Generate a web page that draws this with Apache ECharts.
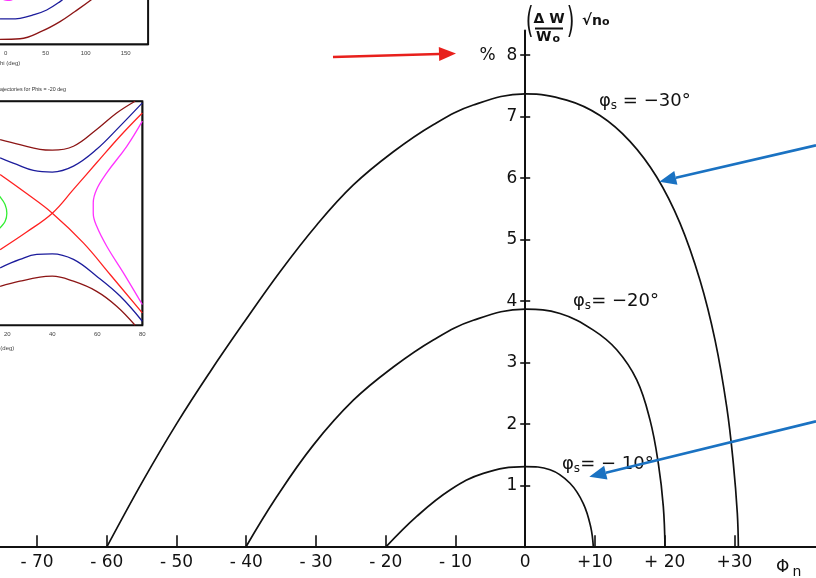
<!DOCTYPE html>
<html><head><meta charset="utf-8">
<script src="https://cdn.jsdelivr.net/npm/echarts@6/dist/echarts.min.js"></script>
<style>html,body{margin:0;padding:0;background:#fff}#c{width:816px;height:578px}</style>
</head><body><div id="c"></div>
<script>
// ---------- main chart ----------
const xTicks = [-70,-60,-50,-40,-30,-20,-10,0,10,20,30];
const xTickLabels = ['- 70','- 60','- 50','- 40','- 30','- 20','- 10','0','+10','+ 20','+30'];
const yTicks = [1,2,3,4,5,6,7,8];
const yTickLabels = ['1','2','3','4','5','6','7','%  8'];

const phi30 = [-60,-54.75,-49.97,-45.19,-40.42,-35.15,-29.89,-24.64,-18.91,-13.18,-7.44,0,5.95,10.72,15.02,18.85,22.19,25.06,27.21,28.89,29.84,30.41,30.56];
const dw30  = [0,1.09,2.01,2.85,3.64,4.48,5.24,5.89,6.43,6.87,7.19,7.37,7.27,7.02,6.60,6.02,5.27,4.34,3.37,2.28,1.36,0.55,0];
const phi20 = [-40.07,-35.63,-30.38,-24.64,-18.91,-13.18,-7.44,0,4.99,9.77,13.12,15.99,17.89,19.09,19.8,20.04];
const dw20  = [0,0.82,1.66,2.39,2.93,3.37,3.69,3.87,3.80,3.53,3.21,2.72,2.07,1.36,0.66,0];
const phi10 = [-20,-15.56,-10.78,-6.0,0,3.56,6.42,8.33,9.39,9.77];
const dw10  = [0,0.50,0.93,1.20,1.31,1.26,1.04,0.71,0.33,0];

// ---------- inset 1 (top-left, clipped) ----------
const in1Blue  = [[-7.1,0.76],[5,0.76],[17.9,0.78],[34.1,0.88],[51.3,1.03],[67.9,1.28],[76,1.45]];
const in1Dred  = [[-7.1,0.15],[17.9,0.166],[46.6,0.41],[67.9,0.68],[86.6,0.985],[106.6,1.33],[112,1.45]];
const in1Mag   = [[-4,1.36],[0,1.325],[5,1.32],[9,1.35]];

// ---------- inset 2 (Phis = -20 deg) ----------
const in2DredUp = [[16.8,2.63],[25.6,2.45],[34.5,2.28],[40,2.25],[49.4,2.39],[59.7,2.99],[68.6,3.58],[76.8,4.0]];
const in2BlueUp = [[16.8,1.98],[24.2,1.74],[31.6,1.53],[40,1.47],[49.4,1.68],[59.7,2.28],[70.1,3.11],[80,3.94]];
const in2RedA   = [[16.8,1.38],[28.6,0.70],[40,0],[53.8,-1.06],[65.7,-2.19],[80,-3.56]];
const in2RedB   = [[16.8,-1.30],[28.6,-0.67],[40,0],[49.4,0.85],[59.7,1.80],[70.1,2.75],[80,3.58]];
const in2BlueDn = [[16.8,-1.95],[25.6,-1.65],[33.1,-1.47],[40,-1.45],[49.4,-1.65],[59.7,-2.25],[70.1,-2.96],[80,-3.86]];
const in2DredDn = [[16.8,-2.61],[25.6,-2.43],[34.5,-2.28],[40,-2.25],[49.4,-2.43],[59.7,-2.79],[68.6,-3.32],[76.8,-4.0]];
const in2Mag    = [[80,3.29],[73.1,2.39],[64.2,1.44],[59.7,0.85],[58.2,0.37],[58.2,0],[59.7,-0.46],[64.2,-1.18],[71.6,-2.13],[80,-3.26]];
const in2Green  = [[15,0.72],[16.8,0.58],[19,0.31],[19.8,0],[19,-0.30],[16.8,-0.52],[15,-0.66]];

const FONT = 'DejaVu Sans';
const zip = (a,b) => a.map((v,i)=>[v,b[i]]);
const chart = echarts.init(document.getElementById('c'), null, {renderer:'canvas'});

const gridLine = {show:true, lineStyle:{color:'#c4c4c4', width:2}};
const smallLab = {fontSize:6, color:'#444', fontFamily:'Liberation Sans'};

function insetSeries(data, color, xi, yi){
  return {type:'line', xAxisIndex:xi, yAxisIndex:yi, data:data, smooth:0.4, symbol:'none',
          lineStyle:{color:color, width:1.3}, clip:true, silent:true, z:3};
}
function mainSeries(x, y){
  return {type:'line', xAxisIndex:0, yAxisIndex:0, data:zip(x,y), smooth:0.4, symbol:'none',
          lineStyle:{color:'#111', width:1.7}, silent:true};
}

function arrow(x1,y1,x2,y2,color){
  const dx=x1-x2, dy=y1-y2, L=Math.hypot(dx,dy), ux=dx/L, uy=dy/L;
  const hl=17, hw=7;
  const bx=x2+ux*hl, by=y2+uy*hl;
  return [
    {type:'line', shape:{x1:x1,y1:y1,x2:bx,y2:by}, style:{stroke:color, lineWidth:2.6}, z:10},
    {type:'polygon', shape:{points:[[x2,y2],[bx-uy*hw,by+ux*hw],[bx+uy*hw,by-ux*hw]]}, style:{fill:color}, z:10}
  ];
}
const G = {outerBoundsMode:'none', containLabel:false};
const yLab = {show:true, customValues:yTicks, margin:8, fontSize:17, fontFamily:FONT, color:'#111',
       formatter:(v)=>{const i=yTicks.indexOf(Math.round(v)); return i>=0?yTickLabels[i]:'';}};

const option = {
  backgroundColor:'#fff',
  animation:false,
  grid:[
    Object.assign({left:0, right:0, top:30.6, bottom:30.8}, G),
    Object.assign({left:525.2, right:0, top:30.6, bottom:30.8}, G),
    Object.assign({left:-34.3, width:182.4, top:-55.7, height:100, show:true, borderColor:'#111', borderWidth:2, backgroundColor:'#fff', z:2}, G),
    Object.assign({left:-37.7, width:180, top:101.2, height:224, show:true, borderColor:'#111', borderWidth:2, backgroundColor:'#fff', z:2}, G),
    Object.assign({left:525.2, right:0, top:30.6, bottom:30.8}, G)
  ],
  xAxis:[
    {type:'value', gridIndex:0, min:-75.3, max:41.69,
     axisLine:{show:true, onZero:false, lineStyle:{color:'#111', width:2}},
     axisTick:{show:true, inside:true, length:12, customValues:xTicks, lineStyle:{color:'#111', width:1.6}},
     axisLabel:{show:true, customValues:xTicks, margin:7, fontSize:17, fontFamily:FONT, color:'#111',
       formatter:(v)=>{const i=xTicks.indexOf(Math.round(v)); return i>=0?xTickLabels[i]:'';}},
     splitLine:{show:false}},
    {type:'value', gridIndex:1, min:0, max:1, show:false},
    {type:'value', gridIndex:2, min:-50, max:178, interval:50,
     axisLine:{show:false}, axisTick:{show:false}, splitLine:gridLine,
     axisLabel:Object.assign({margin:6, showMaxLabel:false}, smallLab)},
    {type:'value', gridIndex:3, min:0, max:80, interval:20,
     axisLine:{show:false}, axisTick:{show:false}, splitLine:gridLine,
     axisLabel:Object.assign({margin:6}, smallLab)},
    {type:'value', gridIndex:4, min:0, max:1, show:false}
  ],
  yAxis:[
    {type:'value', gridIndex:0, min:0, max:8.4, show:false},
    {type:'value', gridIndex:1, min:0, max:8.4, position:'left',
     axisLine:{show:true, onZero:false, lineStyle:{color:'#111', width:2}},
     axisTick:{show:true, length:5, customValues:yTicks, lineStyle:{color:'#111', width:1.6}},
     axisLabel:yLab, splitLine:{show:false}},
    {type:'value', gridIndex:2, min:0, max:3, interval:1,
     axisLine:{show:false}, axisTick:{show:false}, axisLabel:{show:false}, splitLine:gridLine},
    {type:'value', gridIndex:3, min:-4, max:4, interval:1,
     axisLine:{show:false}, axisTick:{show:false}, axisLabel:{show:false}, splitLine:gridLine},
    {type:'value', gridIndex:4, min:0, max:8.4, position:'left',
     axisLine:{show:false}, axisLabel:{show:false}, splitLine:{show:false},
     axisTick:{show:true, inside:true, length:5, customValues:yTicks, lineStyle:{color:'#111', width:1.6}}}
  ],
  series:[
    mainSeries(phi30, dw30),
    mainSeries(phi20, dw20),
    mainSeries(phi10, dw10),
    insetSeries(in1Blue, '#1c1c9c', 2, 2),
    insetSeries(in1Dred, '#8c1515', 2, 2),
    insetSeries(in1Mag, '#ff33ff', 2, 2),
    insetSeries(in2DredUp, '#8c1515', 3, 3),
    insetSeries(in2BlueUp, '#1c1c9c', 3, 3),
    insetSeries(in2RedA, '#ff2222', 3, 3),
    insetSeries(in2RedB, '#ff2222', 3, 3),
    insetSeries(in2BlueDn, '#1c1c9c', 3, 3),
    insetSeries(in2DredDn, '#8c1515', 3, 3),
    insetSeries(in2Mag, '#ff33ff', 3, 3),
    insetSeries(in2Green, '#33ee33', 3, 3)
  ],
  graphic:[
    {type:'text', left:-4, top:60, style:{text:'Phi (deg)', fontSize:6, fontFamily:'Liberation Sans', fill:'#444'}},
    {type:'text', left:-10, top:345, style:{text:'Phi (deg)', fontSize:6, fontFamily:'Liberation Sans', fill:'#444'}},
    {type:'text', x:66, y:90, style:{text:'Trajectories for Phis = -20 deg', fontSize:5.3, fontFamily:'Liberation Sans', fill:'#333', align:'right', verticalAlign:'middle'}},
    {type:'text', x:529.5, y:23, scaleX:0.55, style:{text:'(', fontSize:36, fontFamily:FONT, fill:'#111', align:'center', verticalAlign:'middle'}},
    {type:'text', x:549, y:19.5, style:{text:'Δ W', fontSize:14, fontWeight:'bold', fontFamily:FONT, fill:'#111', align:'center', verticalAlign:'middle'}},
    {type:'line', shape:{x1:535, y1:28.5, x2:563, y2:28.5}, style:{stroke:'#111', lineWidth:2}},
    {type:'text', x:548, y:37.5, style:{text:'{w|W}{o|o}', fontFamily:FONT, fill:'#111', align:'center', verticalAlign:'middle',
      rich:{w:{fontSize:14, fontWeight:'bold', fontFamily:FONT}, o:{fontSize:11, fontWeight:'bold', fontFamily:FONT, padding:[4,0,0,1]}}}},
    {type:'text', x:570.5, y:23, scaleX:0.55, style:{text:')', fontSize:36, fontFamily:FONT, fill:'#111', align:'center', verticalAlign:'middle'}},
    {type:'text', x:582, y:21, style:{text:'√{n|n}{o|o}', fontSize:15, fontWeight:'bold', fontFamily:FONT, fill:'#111', verticalAlign:'middle',
      rich:{n:{fontSize:14, fontWeight:'bold', fontFamily:FONT}, o:{fontSize:11, fontWeight:'bold', fontFamily:FONT, padding:[3,0,0,0]}}}},
    {type:'text', x:776, y:568, style:{text:'{p|Φ}{n|n}', fill:'#111', verticalAlign:'middle',
      rich:{p:{fontSize:17, fontFamily:FONT}, n:{fontSize:14, fontFamily:FONT, padding:[8,0,0,3]}}}},
    {type:'text', x:599, y:101, style:{text:'{p|φ}{s|s}{t| = −30°}', fill:'#111', verticalAlign:'middle',
      rich:{p:{fontSize:18,fontFamily:FONT}, s:{fontSize:12,fontFamily:FONT,padding:[10,0,0,0]}, t:{fontSize:18,fontFamily:FONT}}}},
    {type:'text', x:573, y:301, style:{text:'{p|φ}{s|s}{t|= −20°}', fill:'#111', verticalAlign:'middle',
      rich:{p:{fontSize:18,fontFamily:FONT}, s:{fontSize:12,fontFamily:FONT,padding:[10,0,0,0]}, t:{fontSize:18,fontFamily:FONT}}}},
    {type:'text', x:562, y:464, style:{text:'{p|φ}{s|s}{t|= − 10°}', fill:'#111', verticalAlign:'middle',
      rich:{p:{fontSize:18,fontFamily:FONT}, s:{fontSize:12,fontFamily:FONT,padding:[10,0,0,0]}, t:{fontSize:18,fontFamily:FONT}}}}
  ].concat(arrow(333,57,456,53.5,'#e8201c'))
   .concat(arrow(816,145.3,659.3,181.7,'#1a72c2'))
   .concat(arrow(816,421.3,589.3,476.7,'#1a72c2'))
};
chart.setOption(option);
</script>
</body></html>
